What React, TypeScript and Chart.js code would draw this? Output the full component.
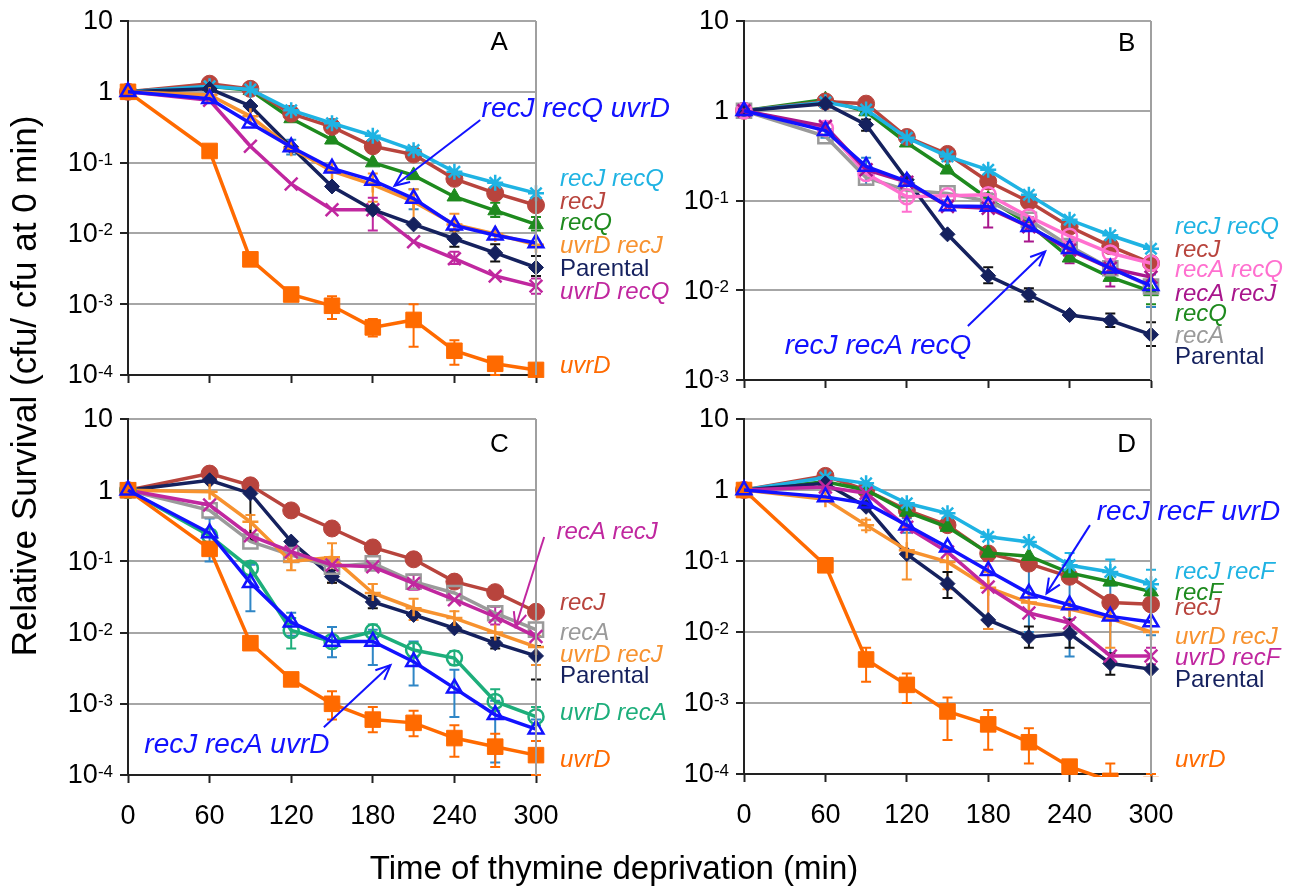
import React, { useEffect, useRef } from "react";
import { Chart, registerables } from "chart.js";

Chart.register(...registerables);

const W = 1298;
const H = 891;
const FONT = 'Arial, "Liberation Sans", Helvetica, sans-serif';

// ---------- shared axes ----------
const TIMES = [0, 60, 90, 120, 150, 180, 210, 240, 270, 300];
const X_TICKS = [0, 60, 120, 180, 240, 300];
const Y_TICKS_4 = [1e-4, 1e-3, 1e-2, 1e-1, 1, 10];
const Y_TICKS_3 = [1e-3, 1e-2, 1e-1, 1, 10];
const X_TITLE = "Time of thymine deprivation (min)";
const Y_TITLE = "Relative Survival (cfu/ cfu at 0 min)";

// ---------- Panel A ----------
const A_PARENTAL = [1, 1.1, 0.63, 0.166, 0.046, 0.0216, 0.0134, 0.0084, 0.0053, 0.0033];
const A_PARENTAL_LO = [null, null, null, null, null, null, null, 0.0065, 0.004, 0.0025];
const A_PARENTAL_HI = [null, null, null, null, null, null, null, 0.011, 0.007, 0.0048];
const A_RECJ = [1, 1.3, 1.1, 0.49, 0.32, 0.17, 0.13, 0.059, 0.037, 0.025];
const A_RECQ = [1, 1.2, 1.05, 0.42, 0.21, 0.1, 0.066, 0.033, 0.021, 0.0134];
const A_RECQ_LO = [null, null, null, null, null, null, null, null, 0.017, 0.011];
const A_RECQ_HI = [null, null, null, null, null, null, null, null, 0.027, 0.017];
const A_RECJ_RECQ = [1, 1.2, 1.08, 0.55, 0.36, 0.24, 0.15, 0.074, 0.052, 0.037];
const A_UVRD = [1, 0.146, 0.0043, 0.00137, 0.00095, 0.00047, 0.0006, 0.00022, 0.000144, 0.000118];
const A_UVRD_LO = [null, null, null, null, 0.00062, 0.00035, 0.00025, 0.00014, 0.0001, 0.0001];
const A_UVRD_HI = [null, null, null, null, 0.0013, 0.00062, 0.001, 0.00031, 0.00018, 0.00014];
const A_UVRD_RECJ = [1, 0.9, 0.45, 0.16, 0.076, 0.049, 0.028, 0.0134, 0.0098, 0.0069];
const A_UVRD_RECJ_LO = [null, null, null, null, null, 0.028, 0.013, 0.011, null, null];
const A_UVRD_RECJ_HI = [null, null, null, null, null, 0.07, 0.042, 0.019, null, null];
const A_UVRD_RECQ = [1, 0.76, 0.17, 0.05, 0.0216, 0.0216, 0.0076, 0.0044, 0.0025, 0.0018];
const A_UVRD_RECQ_LO = [null, null, null, null, null, 0.011, null, 0.0037, null, 0.0014];
const A_UVRD_RECQ_HI = [null, null, null, null, null, 0.032, null, 0.0055, null, 0.0023];
const A_TRIPLE = [1, 0.8, 0.36, 0.166, 0.083, 0.056, 0.031, 0.013, 0.0094, 0.0073];
const A_TRIPLE_LO = [null, null, null, 0.13, null, null, 0.022, null, null, null];
const A_TRIPLE_HI = [null, null, null, 0.21, null, null, 0.042, null, null, null];

// ---------- Panel B ----------
const B_RECJ_RECQ = [1, 1.24, 1.03, 0.5, 0.31, 0.22, 0.116, 0.061, 0.041, 0.029];
const B_RECJ = [1, 1.27, 1.2, 0.51, 0.33, 0.163, 0.097, 0.051, 0.031, 0.02];
const B_RECQ = [1, 1.33, 0.98, 0.44, 0.22, 0.104, 0.055, 0.023, 0.014, 0.0097];
const B_RECQ_LO = [null, null, null, null, null, null, null, null, null, 0.007];
const B_RECQ_HI = [null, null, null, null, null, null, null, null, null, 0.013];
const B_RECA_RECQ = [1, 0.64, 0.2, 0.11, 0.113, 0.116, 0.066, 0.04, 0.026, 0.02];
const B_RECA_RECQ_LO = [null, null, null, 0.075, null, null, null, null, null, null];
const B_RECA_RECQ_HI = [null, null, null, 0.13, null, null, null, null, null, null];
const B_RECA_RECJ = [1, 0.67, 0.22, 0.16, 0.086, 0.082, 0.051, 0.028, 0.0176, 0.014];
const B_RECA_RECJ_LO = [null, null, null, null, null, 0.05, 0.035, 0.02, 0.011, null];
const B_RECA_RECJ_HI = [null, null, null, null, null, 0.12, 0.065, 0.035, 0.022, null];
const B_RECA = [1, 0.52, 0.18, 0.13, 0.12, 0.098, 0.061, 0.031, 0.0176, 0.011];
const B_TRIPLE = [1, 0.6, 0.24, 0.163, 0.087, 0.086, 0.051, 0.029, 0.0176, 0.0112];
const B_TRIPLE_LO = [null, 0.5, 0.15, null, null, null, null, null, null, 0.0065];
const B_TRIPLE_HI = [null, 0.75, 0.3, null, null, null, null, null, null, 0.015];
const B_PARENTAL = [1, 1.2, 0.7, 0.17, 0.042, 0.0145, 0.0089, 0.0053, 0.0046, 0.0032];
const B_PARENTAL_LO = [null, null, 0.6, null, null, 0.012, 0.0075, null, 0.0039, 0.0024];
const B_PARENTAL_HI = [null, null, 0.8, null, null, 0.018, 0.0105, null, 0.0055, 0.0044];

// ---------- Panel C ----------
const C_RECJ = [1, 1.71, 1.17, 0.52, 0.29, 0.157, 0.107, 0.052, 0.037, 0.0196];
const C_PARENTAL = [1, 1.38, 0.9, 0.19, 0.061, 0.027, 0.0177, 0.0115, 0.0071, 0.0047];
const C_PARENTAL_LO = [null, null, 0.2, null, 0.05, 0.022, null, null, 0.006, 0.0022];
const C_PARENTAL_HI = [null, null, 1.1, null, 0.075, 0.033, null, null, 0.0085, 0.0065];
const C_UVRD_RECJ = [1, 0.95, 0.36, 0.1, 0.114, 0.036, 0.022, 0.016, 0.01, 0.0063];
const C_UVRD_RECJ_LO = [null, null, 0.25, 0.075, 0.05, 0.028, 0.015, 0.011, null, 0.0035];
const C_UVRD_RECJ_HI = [null, null, 0.45, 0.12, 0.18, 0.048, 0.03, 0.02, null, 0.009];
const C_RECA = [1, 0.52, 0.19, 0.123, 0.084, 0.094, 0.052, 0.036, 0.0187, 0.011];
const C_RECA_RECJ = [1, 0.62, 0.23, 0.137, 0.089, 0.084, 0.049, 0.029, 0.0167, 0.0088];
const C_RECA_RECJ_LO = [null, null, null, null, null, null, 0.04, null, 0.013, null];
const C_RECA_RECJ_HI = [null, null, null, null, null, null, 0.065, null, 0.023, null];
const C_UVRD_RECA = [1, 0.23, 0.08, 0.0107, 0.0075, 0.0103, 0.0057, 0.0044, 0.00108, 0.00066];
const C_UVRD_RECA_LO = [null, null, 0.065, 0.006, null, 0.0085, 0.0045, 0.0035, 0.0008, 0.0005];
const C_UVRD_RECA_HI = [null, null, 0.095, 0.016, null, 0.013, 0.0072, 0.0055, 0.0016, 0.0009];
const C_TRIPLE = [1, 0.25, 0.05, 0.014, 0.0075, 0.0075, 0.0039, 0.00166, 0.0007, 0.00044];
const C_TRIPLE_LO = [null, 0.1, 0.02, 0.009, 0.0045, 0.0035, 0.0018, 0.00065, 0.00015, 0.0003];
const C_TRIPLE_HI = [null, 0.4, 0.09, 0.019, 0.012, 0.011, 0.0075, 0.003, 0.0011, 0.0006];
const C_UVRD = [1, 0.15, 0.0071, 0.0022, 0.001, 0.0006, 0.00054, 0.00033, 0.00025, 0.00019];
const C_UVRD_LO = [null, null, null, null, 0.0006, 0.0004, 0.00035, 0.00018, 0.00013, 0.0001];
const C_UVRD_HI = [null, null, null, null, 0.0015, 0.0009, 0.0008, 0.0005, 0.00038, 0.0003];

// ---------- Panel D ----------
const D_RECJ_RECF = [1, 1.5, 1.24, 0.65, 0.47, 0.22, 0.185, 0.087, 0.07, 0.047];
const D_RECJ_RECF_LO = [null, null, null, null, null, null, null, 0.05, 0.045, 0.03];
const D_RECJ_RECF_HI = [null, null, null, null, null, null, null, 0.13, 0.105, 0.075];
const D_RECF = [1, 1.31, 1.0, 0.49, 0.3, 0.13, 0.117, 0.068, 0.051, 0.037];
const D_RECJ = [1, 1.58, 1.0, 0.52, 0.32, 0.128, 0.092, 0.06, 0.026, 0.0245];
const D_TRIPLE = [1, 0.8, 0.65, 0.32, 0.156, 0.073, 0.035, 0.024, 0.0166, 0.0138];
const D_TRIPLE_LO = [null, null, null, 0.25, null, null, 0.01, 0.0045, 0.004, 0.009];
const D_TRIPLE_HI = [null, null, null, 0.4, null, null, 0.085, 0.1, 0.05, 0.02];
const D_UVRD_RECJ = [1, 0.74, 0.32, 0.142, 0.097, 0.042, 0.026, 0.021, 0.0155, 0.01];
const D_UVRD_RECJ_LO = [null, null, 0.27, 0.055, 0.04, 0.011, null, null, 0.006, null];
const D_UVRD_RECJ_HI = [null, null, 0.38, 0.3, 0.15, 0.07, null, null, 0.03, null];
const D_UVRD_RECF = [1, 1.1, 0.9, 0.3, 0.134, 0.043, 0.0185, 0.0134, 0.0046, 0.0046];
const D_UVRD_RECF_LO = [null, null, null, null, null, 0.011, null, null, null, 0.0035];
const D_UVRD_RECF_HI = [null, null, null, null, null, 0.1, null, null, null, 0.006];
const D_PARENTAL = [1, 1.24, 0.58, 0.125, 0.048, 0.0148, 0.0085, 0.0095, 0.0036, 0.003];
const D_PARENTAL_LO = [null, null, null, null, 0.03, null, 0.006, 0.006, 0.0025, null];
const D_PARENTAL_HI = [null, null, null, null, 0.07, null, 0.012, 0.015, 0.005, null];
const D_UVRD = [1, 0.087, 0.0041, 0.0018, 0.00076, 0.0005, 0.00028, 0.000127, 0.00008, 0.00007];
const D_UVRD_LO = [null, null, 0.002, 0.001, 0.0003, 0.00022, 0.00014, null, 0.00005, 0.00004];
const D_UVRD_HI = [null, null, 0.006, 0.0026, 0.0012, 0.0008, 0.00044, null, 0.00014, 0.0001];

// ---------- colours & marker styles ----------
const NAVY = "#15215E";
const RED = "#B8443D";
const GREEN = "#1E8A1E";
const CYAN = "#1FB3E3";
const ORANGE = "#FF6A00";
const LORANGE = "#F7922F";
const MAGENTA = "#C0279F";
const PURPLE = "#A8168C";
const BLUE = "#1212FF";
const PINK = "#FF6FCF";
const GREY = "#9A9A9A";
const TEAL = "#1DAE7B";

type Style = { color: string; point: string; r: number; open?: boolean; line?: boolean; err?: string };
const STYLES: Record<string, Style> = {
  parental: { color: NAVY, point: "rectRot", r: 7.5, err: "#111111" },
  recJ: { color: RED, point: "circle", r: 8.5 },
  recQ: { color: GREEN, point: "triangle", r: 8.5 },
  recJrecQ: { color: CYAN, point: "star", r: 8, line: true },
  uvrD: { color: ORANGE, point: "rect", r: 11 },
  uvrDrecJ: { color: LORANGE, point: "cross", r: 8, line: true },
  uvrDrecQ: { color: MAGENTA, point: "crossRot", r: 9, line: true },
  recArecJB: { color: PURPLE, point: "crossRot", r: 9, line: true },
  triple: { color: BLUE, point: "triangle", r: 8.5, open: true, err: "#2F86C6" },
  recArecQ: { color: PINK, point: "circle", r: 7.5, open: true },
  recA: { color: GREY, point: "rect", r: 10, open: true },
  uvrDrecA: { color: TEAL, point: "circle", r: 7.5, open: true },
};

type Series = { name: string; style: string; values: number[]; lo?: (number | null)[]; hi?: (number | null)[] };
type Label = { text: string; color: string; v: number; upright?: boolean };
type Note = { text: string; color: string; x: number; y: number; size: number; italic: boolean; align?: string; arrow?: number[] };
type Panel = {
  id: string;
  area: number[]; // left, top, right, bottom in page pixels (layout)
  yMin: number;
  yTicks: number[];
  xLabels: boolean;
  titles?: boolean;
  series: Series[];
  labels: Label[];
  notes: Note[];
};

const PANELS: Panel[] = [
  {
    id: "A",
    area: [128, 21, 536, 375],
    yMin: 1e-4,
    yTicks: Y_TICKS_4,
    xLabels: false,
    series: [
      { name: "recJ recQ uvrD", style: "triple", values: A_TRIPLE, lo: A_TRIPLE_LO, hi: A_TRIPLE_HI },
      { name: "uvrD", style: "uvrD", values: A_UVRD, lo: A_UVRD_LO, hi: A_UVRD_HI },
      { name: "uvrD recJ", style: "uvrDrecJ", values: A_UVRD_RECJ, lo: A_UVRD_RECJ_LO, hi: A_UVRD_RECJ_HI },
      { name: "Parental", style: "parental", values: A_PARENTAL, lo: A_PARENTAL_LO, hi: A_PARENTAL_HI },
      { name: "uvrD recQ", style: "uvrDrecQ", values: A_UVRD_RECQ, lo: A_UVRD_RECQ_LO, hi: A_UVRD_RECQ_HI },
      { name: "recJ recQ", style: "recJrecQ", values: A_RECJ_RECQ },
      { name: "recJ", style: "recJ", values: A_RECJ },
      { name: "recQ", style: "recQ", values: A_RECQ, lo: A_RECQ_LO, hi: A_RECQ_HI },
    ],
    labels: [
      { text: "recJ recQ", color: CYAN, v: 0.058 },
      { text: "recJ", color: RED, v: 0.0274 },
      { text: "recQ", color: GREEN, v: 0.0138 },
      { text: "uvrD recJ", color: LORANGE, v: 0.0066 },
      { text: "Parental", color: NAVY, v: 0.0031, upright: true },
      { text: "uvrD recQ", color: MAGENTA, v: 0.00148 },
      { text: "uvrD", color: ORANGE, v: 0.000134 },
    ],
    notes: [
      { text: "A", color: "#000", x: 273, y: 4.9, size: 26, italic: false, align: "center" },
      { text: "recJ recQ uvrD", color: BLUE, x: 260, y: 0.56, size: 28, italic: true, arrow: [259, 0.4, 196, 0.047] },
    ],
  },
  {
    id: "B",
    area: [744, 21, 1151, 380],
    yMin: 1e-3,
    yTicks: Y_TICKS_3,
    xLabels: false,
    series: [
      { name: "recJ recA recQ", style: "triple", values: B_TRIPLE, lo: B_TRIPLE_LO, hi: B_TRIPLE_HI },
      { name: "recA recJ", style: "recArecJB", values: B_RECA_RECJ, lo: B_RECA_RECJ_LO, hi: B_RECA_RECJ_HI },
      { name: "recA recQ", style: "recArecQ", values: B_RECA_RECQ, lo: B_RECA_RECQ_LO, hi: B_RECA_RECQ_HI },
      { name: "recA", style: "recA", values: B_RECA },
      { name: "Parental", style: "parental", values: B_PARENTAL, lo: B_PARENTAL_LO, hi: B_PARENTAL_HI },
      { name: "recJ recQ", style: "recJrecQ", values: B_RECJ_RECQ },
      { name: "recJ", style: "recJ", values: B_RECJ },
      { name: "recQ", style: "recQ", values: B_RECQ, lo: B_RECQ_LO, hi: B_RECQ_HI },
    ],
    labels: [
      { text: "recJ recQ", color: CYAN, v: 0.05 },
      { text: "recJ", color: RED, v: 0.0278 },
      { text: "recA recQ", color: PINK, v: 0.0167 },
      { text: "recA recJ", color: PURPLE, v: 0.009 },
      { text: "recQ", color: GREEN, v: 0.0054 },
      { text: "recA", color: GREY, v: 0.0031 },
      { text: "Parental", color: NAVY, v: 0.0018, upright: true },
    ],
    notes: [
      { text: "B", color: "#000", x: 282, y: 5.5, size: 26, italic: false, align: "center" },
      { text: "recJ recA recQ", color: BLUE, x: 30, y: 0.0024, size: 28, italic: true, arrow: [165, 0.004, 222, 0.027] },
    ],
  },
  {
    id: "C",
    area: [128, 419, 536, 775],
    yMin: 1e-4,
    yTicks: Y_TICKS_4,
    xLabels: true,
    titles: true,
    series: [
      { name: "recJ recA uvrD", style: "triple", values: C_TRIPLE, lo: C_TRIPLE_LO, hi: C_TRIPLE_HI },
      { name: "uvrD", style: "uvrD", values: C_UVRD, lo: C_UVRD_LO, hi: C_UVRD_HI },
      { name: "uvrD recA", style: "uvrDrecA", values: C_UVRD_RECA, lo: C_UVRD_RECA_LO, hi: C_UVRD_RECA_HI },
      { name: "recA recJ", style: "uvrDrecQ", values: C_RECA_RECJ, lo: C_RECA_RECJ_LO, hi: C_RECA_RECJ_HI },
      { name: "uvrD recJ", style: "uvrDrecJ", values: C_UVRD_RECJ, lo: C_UVRD_RECJ_LO, hi: C_UVRD_RECJ_HI },
      { name: "recA", style: "recA", values: C_RECA },
      { name: "Parental", style: "parental", values: C_PARENTAL, lo: C_PARENTAL_LO, hi: C_PARENTAL_HI },
      { name: "recJ", style: "recJ", values: C_RECJ },
    ],
    labels: [
      { text: "recJ", color: RED, v: 0.026 },
      { text: "recA", color: GREY, v: 0.0099 },
      { text: "uvrD recJ", color: LORANGE, v: 0.00484 },
      { text: "Parental", color: NAVY, v: 0.0024, upright: true },
      { text: "uvrD recA", color: TEAL, v: 0.00074 },
      { text: "uvrD", color: ORANGE, v: 0.000162 },
    ],
    notes: [
      { text: "C", color: "#000", x: 273, y: 4.3, size: 26, italic: false, align: "center" },
      { text: "recA recJ", color: MAGENTA, x: 315, y: 0.26, size: 24, italic: true, arrow: [306, 0.22, 285, 0.012] },
      { text: "recJ recA uvrD", color: BLUE, x: 12, y: 0.00026, size: 28, italic: true, arrow: [144, 0.00047, 193, 0.0035] },
    ],
  },
  {
    id: "D",
    area: [744, 419, 1151, 774],
    yMin: 1e-4,
    yTicks: Y_TICKS_4,
    xLabels: true,
    series: [
      { name: "recJ recF uvrD", style: "triple", values: D_TRIPLE, lo: D_TRIPLE_LO, hi: D_TRIPLE_HI },
      { name: "uvrD", style: "uvrD", values: D_UVRD, lo: D_UVRD_LO, hi: D_UVRD_HI },
      { name: "uvrD recF", style: "uvrDrecQ", values: D_UVRD_RECF, lo: D_UVRD_RECF_LO, hi: D_UVRD_RECF_HI },
      { name: "uvrD recJ", style: "uvrDrecJ", values: D_UVRD_RECJ, lo: D_UVRD_RECJ_LO, hi: D_UVRD_RECJ_HI },
      { name: "Parental", style: "parental", values: D_PARENTAL, lo: D_PARENTAL_LO, hi: D_PARENTAL_HI },
      { name: "recJ recF", style: "recJrecQ", values: D_RECJ_RECF, lo: D_RECJ_RECF_LO, hi: D_RECJ_RECF_HI },
      { name: "recF", style: "recQ", values: D_RECF },
      { name: "recJ", style: "recJ", values: D_RECJ },
    ],
    labels: [
      { text: "recJ recF", color: CYAN, v: 0.07 },
      { text: "recF", color: GREEN, v: 0.0355 },
      { text: "recJ", color: RED, v: 0.0219 },
      { text: "uvrD recJ", color: LORANGE, v: 0.0085 },
      { text: "uvrD recF", color: MAGENTA, v: 0.0042 },
      { text: "Parental", color: NAVY, v: 0.0021, upright: true },
      { text: "uvrD", color: ORANGE, v: 0.000158 },
    ],
    notes: [
      { text: "D", color: "#000", x: 282, y: 4.3, size: 26, italic: false, align: "center" },
      { text: "recJ recF uvrD", color: BLUE, x: 260, y: 0.49, size: 28, italic: true, arrow: [255, 0.32, 223, 0.035] },
    ],
  },
];

function drawArrow(ctx: CanvasRenderingContext2D, x1: number, y1: number, x2: number, y2: number, color: string) {
  ctx.save();
  ctx.strokeStyle = color;
  ctx.lineWidth = 2;
  ctx.beginPath();
  ctx.moveTo(x1, y1);
  ctx.lineTo(x2, y2);
  ctx.stroke();
  const ang = Math.atan2(y2 - y1, x2 - x1);
  const L = 16;
  const A = 0.42;
  ctx.beginPath();
  ctx.moveTo(x2 - L * Math.cos(ang - A), y2 - L * Math.sin(ang - A));
  ctx.lineTo(x2, y2);
  ctx.lineTo(x2 - L * Math.cos(ang + A), y2 - L * Math.sin(ang + A));
  ctx.stroke();
  ctx.restore();
}

function makeDecor(p: Panel) {
  return {
    id: "decor" + p.id,
    beforeDatasetsDraw(chart: any) {
      const ctx: CanvasRenderingContext2D = chart.ctx;
      const ca = chart.chartArea;
      const xs = chart.scales.x;
      const ys = chart.scales.y;
      ctx.save();
      ctx.beginPath();
      ctx.rect(ca.left - 20, ca.top - 20, ca.right - ca.left + 40, ca.bottom - ca.top + 22);
      ctx.clip();
      p.series.forEach((s) => {
        if (!s.lo || !s.hi) return;
        const st = STYLES[s.style];
        ctx.strokeStyle = st.err || st.color;
        ctx.lineWidth = 2;
        TIMES.forEach((tm, i) => {
          const lo = s.lo![i];
          const hi = s.hi![i];
          if (lo == null || hi == null) return;
          const x = xs.getPixelForValue(tm);
          const y1 = ys.getPixelForValue(lo);
          const y2 = ys.getPixelForValue(hi);
          ctx.beginPath();
          ctx.moveTo(x, y1);
          ctx.lineTo(x, y2);
          ctx.moveTo(x - 5, y1);
          ctx.lineTo(x + 5, y1);
          ctx.moveTo(x - 5, y2);
          ctx.lineTo(x + 5, y2);
          ctx.stroke();
        });
      });
      ctx.restore();
    },
    afterDraw(chart: any) {
      const ctx: CanvasRenderingContext2D = chart.ctx;
      const ca = chart.chartArea;
      const xs = chart.scales.x;
      const ys = chart.scales.y;
      ctx.save();
      // right frame of plot area
      ctx.strokeStyle = "#A0A0A0";
      ctx.lineWidth = 2;
      ctx.beginPath();
      ctx.moveTo(ca.right, ca.top);
      ctx.lineTo(ca.right, ca.bottom);
      ctx.stroke();

      // y tick labels (powers of ten)
      ctx.fillStyle = "#000";
      const rightEdge = ca.left - 15;
      p.yTicks.forEach((v) => {
        const y = ys.getPixelForValue(v);
        const e = Math.round(Math.log10(v));
        ctx.textBaseline = "middle";
        if (e === 1 || e === 0) {
          ctx.font = `27px ${FONT}`;
          ctx.textAlign = "right";
          ctx.fillText(e === 1 ? "10" : "1", rightEdge, y + 1);
        } else {
          const sup = "-" + String(-e);
          ctx.font = `17px ${FONT}`;
          const w2 = ctx.measureText(sup).width;
          ctx.textAlign = "left";
          ctx.textBaseline = "alphabetic";
          ctx.fillText(sup, rightEdge - w2, y + 2);
          ctx.font = `27px ${FONT}`;
          ctx.textAlign = "right";
          ctx.textBaseline = "middle";
          ctx.fillText("10", rightEdge - w2, y + 1);
        }
      });

      // x tick labels
      if (p.xLabels) {
        ctx.font = `27px ${FONT}`;
        ctx.textAlign = "center";
        ctx.textBaseline = "middle";
        X_TICKS.forEach((v) => {
          ctx.fillText(String(v), xs.getPixelForValue(v), ca.bottom + 42);
        });
      }

      // series labels at the right
      ctx.textAlign = "left";
      ctx.textBaseline = "middle";
      p.labels.forEach((lb) => {
        ctx.font = `${lb.upright ? "" : "italic "}24px ${FONT}`;
        ctx.fillStyle = lb.color;
        ctx.fillText(lb.text, ca.right + 24, ys.getPixelForValue(lb.v));
      });

      // notes & arrows
      p.notes.forEach((n) => {
        ctx.font = `${n.italic ? "italic " : ""}${n.size}px ${FONT}`;
        ctx.fillStyle = n.color;
        ctx.textAlign = (n.align as CanvasTextAlign) || "left";
        ctx.textBaseline = "middle";
        ctx.fillText(n.text, xs.getPixelForValue(n.x), ys.getPixelForValue(n.y));
        if (n.arrow) {
          const [ax1, ay1, ax2, ay2] = n.arrow;
          drawArrow(
            ctx,
            xs.getPixelForValue(ax1),
            ys.getPixelForValue(ay1),
            xs.getPixelForValue(ax2),
            ys.getPixelForValue(ay2),
            n.color
          );
        }
      });

      // shared axis titles
      if (p.titles) {
        ctx.fillStyle = "#000";
        ctx.font = `33px ${FONT}`;
        ctx.textAlign = "center";
        ctx.textBaseline = "middle";
        ctx.fillText(X_TITLE, 614, 870);
        ctx.save();
        ctx.font = `35px ${FONT}`;
        ctx.translate(26, 386);
        ctx.rotate(-Math.PI / 2);
        ctx.fillText(Y_TITLE, 0, 0);
        ctx.restore();
      }
      ctx.restore();
    },
  };
}

function buildConfig(p: Panel): any {
  const [l, t, r, b] = p.area;
  return {
    type: "line",
    data: {
      datasets: p.series.map((s) => {
        const st = STYLES[s.style];
        return {
          label: s.name,
          data: TIMES.map((x, i) => ({ x, y: s.values[i] })),
          borderColor: st.color,
          backgroundColor: st.color,
          borderWidth: 3.5,
          pointStyle: st.point,
          pointRadius: st.r,
          pointHoverRadius: st.r,
          pointBackgroundColor: st.open ? "rgba(255,255,255,0)" : st.color,
          pointBorderColor: st.color,
          pointBorderWidth: st.open || st.line ? 2.5 : 1,
          tension: 0,
          fill: false,
          clip: { left: 20, right: 20, top: 20, bottom: 3 },
        };
      }),
    },
    options: {
      animation: false,
      responsive: false,
      maintainAspectRatio: false,
      events: [],
      layout: { padding: { left: l, top: t, right: W - r, bottom: H - b } },
      plugins: { legend: { display: false }, tooltip: { enabled: false }, title: { display: false } },
      scales: {
        x: {
          type: "linear",
          min: 0,
          max: 300,
          afterBuildTicks: (s: any) => {
            s.ticks = X_TICKS.map((v) => ({ value: v }));
          },
          afterFit: (s: any) => {
            s.height = 0;
          },
          ticks: { display: false },
          grid: { drawOnChartArea: false, drawTicks: true, tickLength: 8, tickColor: "#222", tickWidth: 2 },
          border: { color: "#222", width: 2 },
        },
        y: {
          type: "logarithmic",
          min: p.yMin,
          max: 10,
          afterBuildTicks: (s: any) => {
            s.ticks = p.yTicks.map((v) => ({ value: v }));
          },
          afterFit: (s: any) => {
            s.width = 0;
          },
          ticks: { display: false },
          grid: { color: "#A6A6A6", lineWidth: 2, drawTicks: true, tickLength: 8, tickColor: "#222", tickWidth: 2 },
          border: { color: "#222", width: 2 },
        },
      },
    },
    plugins: [makeDecor(p)],
  };
}

function PanelChart({ panel }: { panel: Panel }) {
  const ref = useRef<HTMLCanvasElement>(null);
  useEffect(() => {
    if (!ref.current) return;
    const chart = new Chart(ref.current, buildConfig(panel));
    return () => chart.destroy();
  }, [panel]);
  return (
    <canvas
      ref={ref}
      width={W}
      height={H}
      style={{ position: "absolute", left: 0, top: 0, width: W, height: H }}
    />
  );
}

export default function App() {
  useEffect(() => {
    document.documentElement.style.overflow = "hidden";
    document.body.style.margin = "0";
  }, []);
  return (
    <div style={{ position: "absolute", left: 0, top: 0, width: W, height: H, background: "#fff", overflow: "hidden" }}>
      {PANELS.map((p) => (
        <PanelChart key={p.id} panel={p} />
      ))}
    </div>
  );
}
